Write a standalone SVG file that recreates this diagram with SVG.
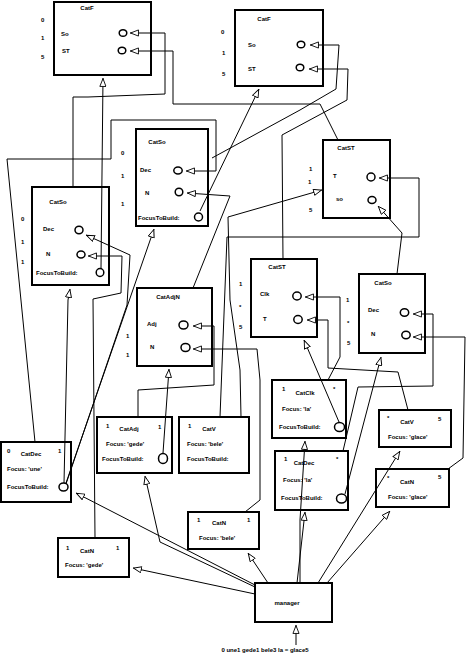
<svg xmlns="http://www.w3.org/2000/svg" width="468" height="654" viewBox="0 0 468 654">
<style>
.b{fill:none;stroke:#000;stroke-width:2}
.c{fill:#fff;stroke:#000;stroke-width:1.5}
.t{font-family:"Liberation Sans",Arial,sans-serif;font-size:6px;font-weight:bold;fill:#000}
.m{text-anchor:middle}
.l{fill:none;stroke:#000;stroke-width:1;marker-end:url(#a)}
</style>
<defs>
<marker id="a" viewBox="0 0 10 8" refX="10" refY="4" markerWidth="9" markerHeight="7.2" orient="auto" markerUnits="userSpaceOnUse">
<path d="M0.6,0.6 L9.4,4 L0.6,7.4 Z" fill="#fff" stroke="#000" stroke-width="1"/>
</marker>
</defs>
<rect width="468" height="654" fill="#fff"/>

<g id="connectors">
<path class="l" d="M73,187 L73,97 L88,97 L165,94 L165,33 L130,33"/>
<path class="l" d="M338,140 L320,104 L173,104 L173,51 L130,51"/>
<path class="l" d="M212,158 L300,110 L336,89 L339,45 L310,45"/>
<path class="l" d="M283,259 L282,135 L347,100 L348,69 L309,69"/>
<path class="l" d="M101,268 L103,78"/>
<path class="l" d="M200,211 L259,89"/>
<path class="l" d="M35,442 L7,159 L111,159 L111,120 L216,120 L216,171 L186,171"/>
<path class="l" d="M193,288 L230,196 L187,193"/>
<path class="l" d="M66,483 L154,229"/>
<path class="l" d="M66,484 L127,305 L130,255 L86,235"/>
<path class="l" d="M64,483 L68,300 L70,289"/>
<path class="l" d="M95,538 L93,299 L121,293 L122,256 L88,256"/>
<path class="l" d="M220,417 L227,237 L419,237 L419,178 L379,178"/>
<path class="l" d="M241,417 L240,370 L230,300 L228,217 L322,190"/>
<path class="l" d="M397,274 L402,233 L378,206"/>
<path class="l" d="M328,380 L340,357 L340,297 L305,297"/>
<path class="l" d="M408,410 L398,372 L328,368 L328,320 L307,320"/>
<path class="l" d="M339,422 L304,340"/>
<path class="l" d="M343,451 L358,387 L433,386 L433,314 L413,314"/>
<path class="l" d="M448,469 L463,458 L465,337 L413,337"/>
<path class="l" d="M345,494 L381,357"/>
<path class="l" d="M138,417 L138,390 L214,385 L214,326 L193,326"/>
<path class="l" d="M245,512 L260,500 L260,380 L257,349 L193,349"/>
<path class="l" d="M163,453 L169,369"/>
<path class="l" d="M255,585 L76,493"/>
<path class="l" d="M255,587 L160,542 L145,476"/>
<path class="l" d="M255,594 L133,568"/>
<path class="l" d="M268,583 L248,553"/>
<path class="l" d="M297,583 L305,512"/>
<path class="l" d="M300,583 L300,520 L305,441"/>
<path class="l" d="M318,583 L400,451"/>
<path class="l" d="M327,583 L390,511"/>
<path class="l" d="M296,645 L296,625"/>
</g>

<g id="catF1">
<rect class="b" x="54" y="2" width="97" height="73"/>
<text class="t m" x="87" y="10">CatF</text>
<text class="t" x="61" y="36">So</text>
<text class="t" x="62" y="53">ST</text>
<ellipse class="c" cx="123" cy="33" rx="3.8" ry="3.3"/>
<ellipse class="c" cx="122" cy="50.5" rx="3.8" ry="3.3"/>
<text class="t" x="41" y="22">0</text>
<text class="t" x="41" y="40">1</text>
<text class="t" x="41" y="59">5</text>
</g>

<g id="catF2">
<rect class="b" x="235" y="10" width="88" height="76"/>
<text class="t m" x="264" y="21">CatF</text>
<text class="t" x="248" y="47">So</text>
<text class="t" x="248" y="71">ST</text>
<ellipse class="c" cx="301" cy="44.5" rx="3.8" ry="3.3"/>
<ellipse class="c" cx="300" cy="67.5" rx="3.8" ry="3.3"/>
<text class="t" x="221" y="34">0</text>
<text class="t" x="222" y="55">1</text>
<text class="t" x="222" y="76">5</text>
</g>

<g id="catSo1">
<rect class="b" x="136" y="129" width="72" height="97"/>
<text class="t m" x="157" y="144">CatSo</text>
<text class="t" x="140" y="172">Dec</text>
<text class="t" x="145" y="195">N</text>
<ellipse class="c" cx="178" cy="170.5" rx="4.2" ry="3.5"/>
<ellipse class="c" cx="179" cy="192" rx="3.8" ry="3.8"/>
<ellipse class="c" cx="198.5" cy="217" rx="4" ry="4"/>
<text class="t" x="138" y="220">FocusToBuild:</text>
<text class="t" x="121" y="155">0</text>
<text class="t" x="121" y="178">1</text>
<text class="t" x="121" y="206">1</text>
</g>

<g id="catSo2">
<rect class="b" x="32" y="187" width="77" height="98"/>
<text class="t m" x="58" y="204">CatSo</text>
<text class="t" x="43" y="231">Dec</text>
<text class="t" x="46" y="256">N</text>
<ellipse class="c" cx="79" cy="230" rx="4" ry="3.8"/>
<ellipse class="c" cx="81" cy="254.5" rx="4" ry="3.5"/>
<ellipse class="c" cx="100" cy="272.5" rx="3.8" ry="4"/>
<text class="t" x="36" y="275">FocusToBuild:</text>
<text class="t" x="21" y="221">0</text>
<text class="t" x="21" y="244">1</text>
<text class="t" x="21" y="264">1</text>
</g>

<g id="catST1">
<rect class="b" x="323" y="140" width="67" height="78"/>
<text class="t m" x="346" y="150">CatST</text>
<text class="t" x="333" y="178">T</text>
<text class="t" x="336" y="201">so</text>
<ellipse class="c" cx="371" cy="177" rx="4" ry="4"/>
<ellipse class="c" cx="372" cy="200" rx="4" ry="3.5"/>
<text class="t" x="309" y="171">1</text>
<text class="t" x="308" y="184">1</text>
<text class="t" x="309" y="212">5</text>
</g>

<g id="catST2">
<rect class="b" x="251" y="259" width="66" height="78"/>
<text class="t m" x="277" y="269">CatST</text>
<text class="t" x="260" y="296">Clk</text>
<text class="t" x="263" y="321">T</text>
<ellipse class="c" cx="297" cy="296" rx="4.2" ry="4"/>
<ellipse class="c" cx="298" cy="319.5" rx="4.2" ry="4"/>
<text class="t" x="239" y="286">1</text>
<text class="t" x="239" y="309">*</text>
<text class="t" x="239" y="329">5</text>
</g>

<g id="catSo3">
<rect class="b" x="359" y="274" width="66" height="79"/>
<text class="t m" x="383" y="285">CatSo</text>
<text class="t" x="368" y="312">Dec</text>
<text class="t" x="371" y="336">N</text>
<ellipse class="c" cx="404.5" cy="312.5" rx="4.2" ry="3.8"/>
<ellipse class="c" cx="406" cy="335" rx="4.2" ry="3.8"/>
<text class="t" x="346" y="302">1</text>
<text class="t" x="347" y="325">*</text>
<text class="t" x="347" y="345">5</text>
</g>

<g id="catAdjN">
<rect class="b" x="137" y="288" width="75" height="78"/>
<text class="t m" x="168" y="299">CatAdjN</text>
<text class="t" x="147" y="326">Adj</text>
<text class="t" x="150" y="349">N</text>
<ellipse class="c" cx="183.5" cy="325" rx="4.5" ry="4"/>
<ellipse class="c" cx="185.5" cy="347.5" rx="4.5" ry="4"/>
<text class="t" x="126" y="338">1</text>
<text class="t" x="126" y="357">1</text>
</g>

<g id="catAdj">
<rect class="b" x="97" y="417" width="75" height="56"/>
<text class="t" x="106" y="428">1</text>
<text class="t m" x="129" y="431">CatAdj</text>
<text class="t" x="158" y="429">1</text>
<text class="t" x="106" y="446">Focus: 'gede'</text>
<text class="t" x="102" y="461">FocusToBuild:</text>
<ellipse class="c" cx="163" cy="458.5" rx="4.5" ry="5"/>
</g>

<g id="catV1">
<rect class="b" x="179" y="417" width="70" height="56"/>
<text class="t" x="188" y="428">1</text>
<text class="t m" x="209" y="431">CatV</text>
<text class="t" x="187" y="446">Focus: 'bele'</text>
<text class="t" x="187" y="461">FocusToBuild:</text>
</g>

<g id="catDec1">
<rect class="b" x="1" y="442" width="70" height="60"/>
<text class="t" x="7" y="453">0</text>
<text class="t m" x="31" y="456">CatDec</text>
<text class="t" x="58" y="453">1</text>
<text class="t" x="7" y="471">Focus: 'une'</text>
<text class="t" x="7" y="489">FocusToBuild:</text>
<ellipse class="c" cx="63.5" cy="487" rx="4.5" ry="4"/>
</g>

<g id="catClk">
<rect class="b" x="272" y="380" width="74" height="58"/>
<text class="t" x="282" y="391">1</text>
<text class="t m" x="305" y="395">CatClk</text>
<text class="t" x="333" y="391">*</text>
<text class="t" x="282" y="411">Focus: 'la'</text>
<text class="t" x="279" y="429">FocusToBuild:</text>
<ellipse class="c" cx="339.5" cy="427" rx="5" ry="4.5"/>
</g>

<g id="catDec2">
<rect class="b" x="275" y="451" width="73" height="59"/>
<text class="t" x="284" y="461">1</text>
<text class="t m" x="304" y="465">CatDec</text>
<text class="t" x="336" y="461">*</text>
<text class="t" x="283" y="482">Focus: 'la'</text>
<text class="t" x="281" y="500">FocusToBuild:</text>
<ellipse class="c" cx="341.5" cy="498.5" rx="5" ry="4.5"/>
</g>

<g id="catV2">
<rect class="b" x="379" y="410" width="72" height="37"/>
<text class="t" x="387" y="420">*</text>
<text class="t m" x="407" y="424">CatV</text>
<text class="t" x="438" y="421">5</text>
<text class="t" x="388" y="439">Focus: 'glace'</text>
</g>

<g id="catN1">
<rect class="b" x="376" y="469" width="73" height="38"/>
<text class="t" x="387" y="480">*</text>
<text class="t m" x="407" y="484">CatN</text>
<text class="t" x="438" y="479">5</text>
<text class="t" x="388" y="499">Focus: 'glace'</text>
</g>

<g id="catN2">
<rect class="b" x="188" y="512" width="71" height="37"/>
<text class="t" x="197" y="522">1</text>
<text class="t m" x="219" y="525">CatN</text>
<text class="t" x="247" y="522">1</text>
<text class="t" x="199" y="540">Focus: 'bele'</text>
</g>

<g id="catN3">
<rect class="b" x="58" y="538" width="71" height="39"/>
<text class="t" x="66" y="550">1</text>
<text class="t m" x="87" y="553">CatN</text>
<text class="t" x="116" y="550">1</text>
<text class="t" x="65" y="567">Focus: 'gede'</text>
</g>

<g id="manager">
<rect class="b" x="255" y="583" width="77" height="39"/>
<text class="t m" x="287" y="605">manager</text>
</g>

<text class="t m" x="265" y="652">0 une1 gede1 bele3 la = glace5</text>
</svg>
